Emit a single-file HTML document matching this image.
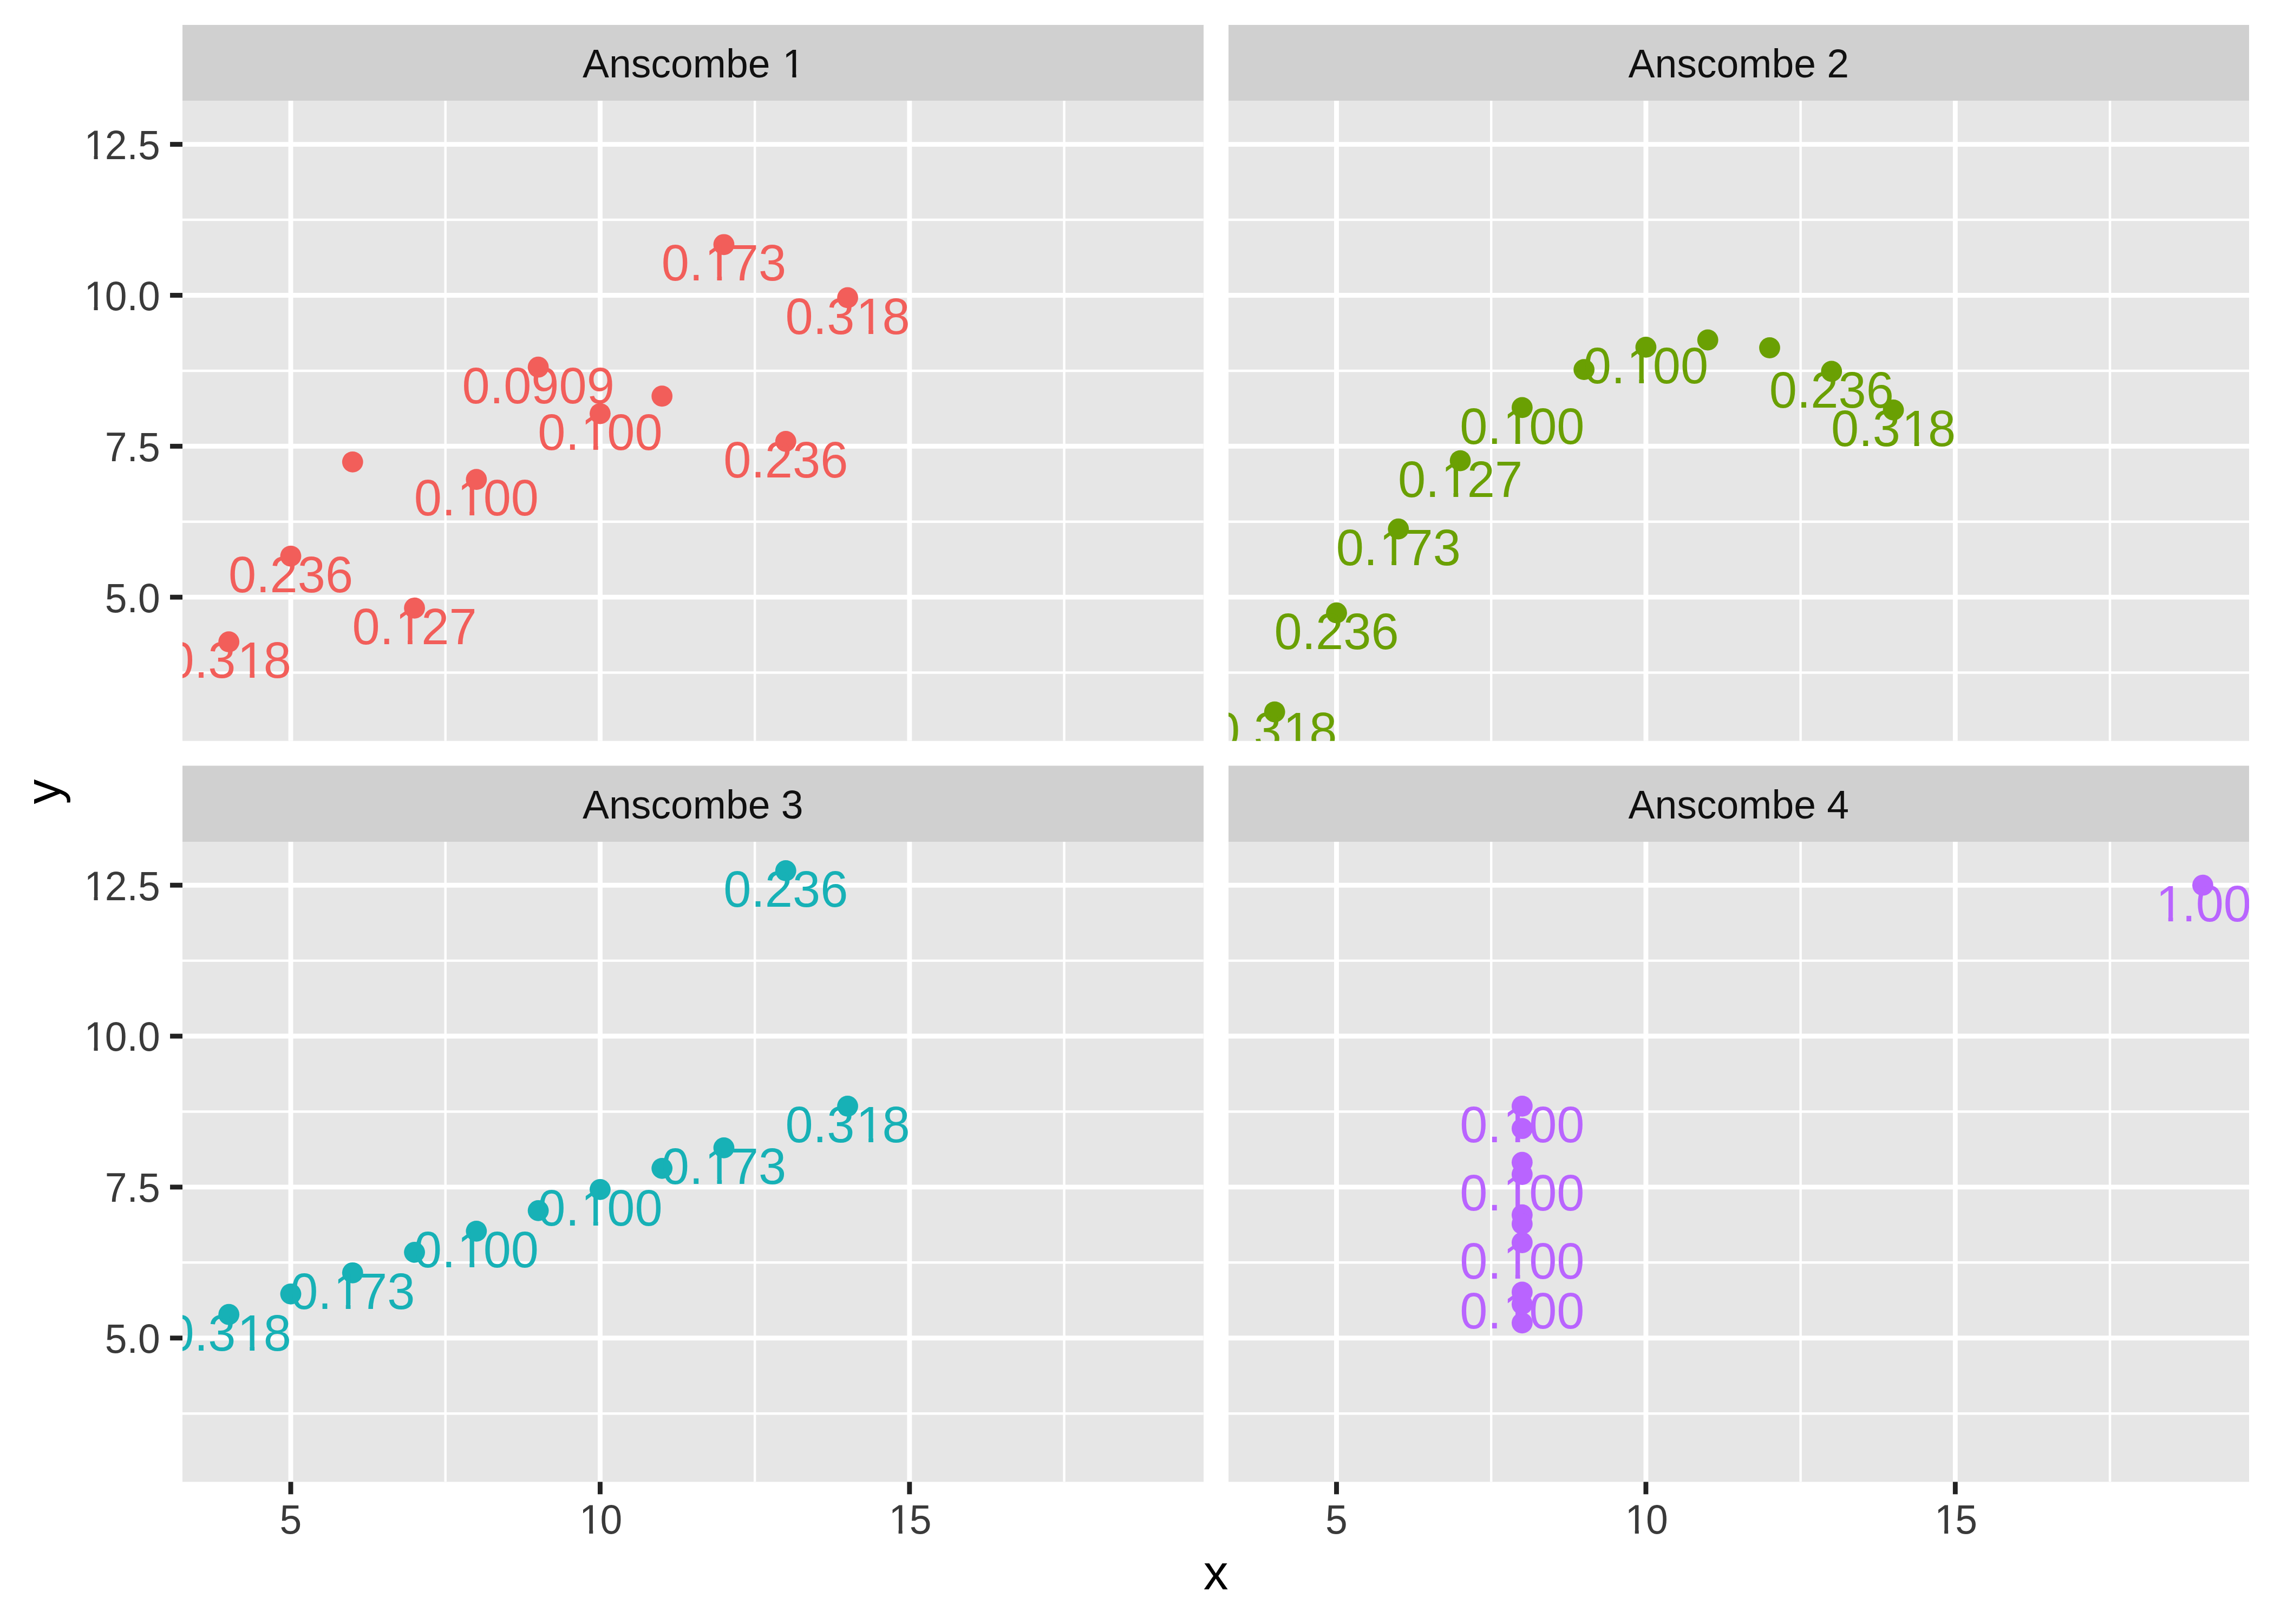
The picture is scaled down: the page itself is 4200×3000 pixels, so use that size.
<!DOCTYPE html>
<html lang="en">
<head>
<meta charset="utf-8">
<title>Anscombe quartet - leverage</title>
<style>
html,body{margin:0;padding:0;background:#ffffff;}
body{width:4200px;height:3000px;overflow:hidden;}
svg{display:block;}
text{font-family:"Liberation Sans",Arial,Helvetica,sans-serif;font-kerning:none;}
</style>
</head>
<body>
<svg width="4200" height="3000" viewBox="0 0 4200 3000">
<rect x="0" y="0" width="4200" height="3000" fill="#ffffff"/>
<defs>
<clipPath id="cp0"><rect x="337" y="186" width="1886" height="1182.70"/></clipPath>
<clipPath id="cp1"><rect x="2269" y="186" width="1885" height="1182.70"/></clipPath>
<clipPath id="cp2"><rect x="337" y="1555" width="1886" height="1182.40"/></clipPath>
<clipPath id="cp3"><rect x="2269" y="1555" width="1885" height="1182.40"/></clipPath>
<clipPath id="k1"><path clip-rule="evenodd" d="M1046.03 55.30H1513.64V172.63H1046.03ZM1449.36 136.22H1463.41V145.30H1449.36ZM1470.50 136.22H1483.98V145.30H1470.50Z"/></clipPath>
<clipPath id="k2"><path clip-rule="evenodd" d="M963.30 698.45H1253.52V845.65H963.30ZM1078.56 800.38H1095.89V810.85H1078.56ZM1104.62 800.38H1121.23V810.85H1104.62Z"/></clipPath>
<clipPath id="k3"><path clip-rule="evenodd" d="M734.73 816.83H1024.96V964.03H734.73ZM850.00 918.76H867.33V929.23H850.00ZM876.06 918.76H892.66V929.23H876.06Z"/></clipPath>
<clipPath id="k4"><path clip-rule="evenodd" d="M1420.43 489.93H1710.65V637.13H1420.43ZM1586.86 591.86H1604.19V602.33H1586.86ZM1612.92 591.86H1629.53V602.33H1612.92Z"/></clipPath>
<clipPath id="k5"><path clip-rule="evenodd" d="M277.60 1108.98H567.82V1256.18H277.60ZM444.03 1210.91H461.36V1221.38H444.03ZM470.09 1210.91H486.70V1221.38H470.09Z"/></clipPath>
<clipPath id="k6"><path clip-rule="evenodd" d="M1191.86 394.36H1482.09V541.56H1191.86ZM1307.13 496.28H1324.46V506.76H1307.13ZM1333.19 496.28H1349.80V506.76H1333.19Z"/></clipPath>
<clipPath id="k7"><path clip-rule="evenodd" d="M620.45 1048.16H910.67V1195.36H620.45ZM735.72 1150.09H753.04V1160.56H735.72ZM761.77 1150.09H778.38V1160.56H761.77Z"/></clipPath>
<clipPath id="k8"><path clip-rule="evenodd" d="M2894.80 578.99H3185.02V726.19H2894.80ZM3010.06 680.91H3027.39V691.39H3010.06ZM3036.12 680.91H3052.73V691.39H3036.12Z"/></clipPath>
<clipPath id="k9"><path clip-rule="evenodd" d="M2666.23 687.59H2956.46V834.79H2666.23ZM2781.50 789.52H2798.83V799.99H2781.50ZM2807.56 789.52H2824.16V799.99H2807.56Z"/></clipPath>
<clipPath id="k10"><path clip-rule="evenodd" d="M3351.93 691.94H3642.15V839.14H3351.93ZM3518.36 793.86H3535.69V804.34H3518.36ZM3544.42 793.86H3561.03V804.34H3544.42Z"/></clipPath>
<clipPath id="k11"><path clip-rule="evenodd" d="M2437.67 905.89H2727.89V1053.09H2437.67ZM2552.93 1007.82H2570.26V1018.29H2552.93ZM2578.99 1007.82H2595.60V1018.29H2578.99Z"/></clipPath>
<clipPath id="k12"><path clip-rule="evenodd" d="M2209.10 1234.96H2499.32V1382.16H2209.10ZM2375.53 1336.89H2392.86V1347.36H2375.53ZM2401.59 1336.89H2418.20V1347.36H2401.59Z"/></clipPath>
<clipPath id="k13"><path clip-rule="evenodd" d="M2551.95 783.16H2842.17V930.36H2551.95ZM2667.22 885.09H2684.54V895.56H2667.22ZM2693.27 885.09H2709.88V895.56H2693.27Z"/></clipPath>
<clipPath id="k14"><path clip-rule="evenodd" d="M963.30 2094.04H1253.52V2241.24H963.30ZM1078.56 2195.97H1095.89V2206.44H1078.56ZM1104.62 2195.97H1121.23V2206.44H1104.62Z"/></clipPath>
<clipPath id="k15"><path clip-rule="evenodd" d="M734.73 2168.98H1024.96V2316.18H734.73ZM850.00 2270.91H867.33V2281.38H850.00ZM876.06 2270.91H892.66V2281.38H876.06Z"/></clipPath>
<clipPath id="k16"><path clip-rule="evenodd" d="M1420.43 1944.17H1710.65V2091.37H1420.43ZM1586.86 2046.09H1604.19V2056.57H1586.86ZM1612.92 2046.09H1629.53V2056.57H1612.92Z"/></clipPath>
<clipPath id="k17"><path clip-rule="evenodd" d="M506.17 2243.92H796.39V2391.12H506.17ZM621.43 2345.85H638.76V2356.32H621.43ZM647.49 2345.85H664.10V2356.32H647.49Z"/></clipPath>
<clipPath id="k18"><path clip-rule="evenodd" d="M277.60 2318.86H567.82V2466.06H277.60ZM444.03 2420.78H461.36V2431.26H444.03ZM470.09 2420.78H486.70V2431.26H470.09Z"/></clipPath>
<clipPath id="k19"><path clip-rule="evenodd" d="M1191.86 2019.10H1482.09V2166.30H1191.86ZM1307.13 2121.03H1324.46V2131.50H1307.13ZM1333.19 2121.03H1349.80V2131.50H1333.19Z"/></clipPath>
<clipPath id="k20"><path clip-rule="evenodd" d="M2666.23 2189.62H2956.46V2336.82H2666.23ZM2781.50 2291.54H2798.83V2302.02H2781.50ZM2807.56 2291.54H2824.16V2302.02H2807.56Z"/></clipPath>
<clipPath id="k21"><path clip-rule="evenodd" d="M2666.23 2278.67H2956.46V2425.87H2666.23ZM2781.50 2380.60H2798.83V2391.07H2781.50ZM2807.56 2380.60H2824.16V2391.07H2807.56Z"/></clipPath>
<clipPath id="k22"><path clip-rule="evenodd" d="M2666.23 2066.89H2956.46V2214.09H2666.23ZM2781.50 2168.82H2798.83V2179.29H2781.50ZM2807.56 2168.82H2824.16V2179.29H2807.56Z"/></clipPath>
<clipPath id="k23"><path clip-rule="evenodd" d="M2666.23 1944.17H2956.46V2091.37H2666.23ZM2781.50 2046.09H2798.83V2056.57H2781.50ZM2807.56 2046.09H2824.16V2056.57H2807.56Z"/></clipPath>
<clipPath id="k24"><path clip-rule="evenodd" d="M3948.93 1546.67H4187.99V1693.87H3948.93ZM3987.47 1648.60H4004.80V1659.07H3987.47ZM4013.53 1648.60H4030.13V1659.07H4013.53Z"/></clipPath>
<clipPath id="k25"><path clip-rule="evenodd" d="M122.98 469.82H325.70V587.15H122.98ZM159.48 550.74H173.54V559.81H159.48ZM180.62 550.74H194.10V559.81H180.62Z"/></clipPath>
<clipPath id="k26"><path clip-rule="evenodd" d="M122.98 198.30H325.70V315.63H122.98ZM159.48 279.22H173.54V288.30H159.48ZM180.62 279.22H194.10V288.30H180.62Z"/></clipPath>
<clipPath id="k27"><path clip-rule="evenodd" d="M122.98 1802.42H325.70V1919.75H122.98ZM159.48 1883.34H173.54V1892.41H159.48ZM180.62 1883.34H194.10V1892.41H180.62Z"/></clipPath>
<clipPath id="k28"><path clip-rule="evenodd" d="M122.98 1530.90H325.70V1648.23H122.98ZM159.48 1611.82H173.54V1620.90H159.48ZM180.62 1611.82H194.10V1620.90H180.62Z"/></clipPath>
<clipPath id="k29"><path clip-rule="evenodd" d="M1037.63 2670.72H1179.19V2788.05H1037.63ZM1074.13 2751.64H1088.18V2760.71H1074.13ZM1095.27 2751.64H1108.75V2760.71H1095.27Z"/></clipPath>
<clipPath id="k30"><path clip-rule="evenodd" d="M1609.04 2670.72H1750.61V2788.05H1609.04ZM1645.55 2751.64H1659.60V2760.71H1645.55ZM1666.68 2751.64H1680.16V2760.71H1666.68Z"/></clipPath>
<clipPath id="k31"><path clip-rule="evenodd" d="M2969.13 2670.72H3110.69V2788.05H2969.13ZM3005.63 2751.64H3019.68V2760.71H3005.63ZM3026.77 2751.64H3040.25V2760.71H3026.77Z"/></clipPath>
<clipPath id="k32"><path clip-rule="evenodd" d="M3540.54 2670.72H3682.11V2788.05H3540.54ZM3577.05 2751.64H3591.10V2760.71H3577.05ZM3598.18 2751.64H3611.66V2760.71H3598.18Z"/></clipPath>
</defs>
<g id="panel1">
<rect x="337" y="46" width="1886" height="140" fill="#D0D0D0"/>
<g font-size="73.33" fill="#101010"><text x="1076.03" y="143.30" clip-path="url(#k1)">Anscombe <tspan dx="2.42">1</tspan></text></g>
<rect x="337" y="186" width="1886" height="1182.70" fill="#E6E6E6"/>
<g clip-path="url(#cp0)">
<g stroke="#fff" stroke-width="4.45">
<line x1="337.00" x2="2222.67" y1="1242.59" y2="1242.59"/>
<line x1="337.00" x2="2222.67" y1="963.74" y2="963.74"/>
<line x1="337.00" x2="2222.67" y1="684.90" y2="684.90"/>
<line x1="337.00" x2="2222.67" y1="406.05" y2="406.05"/>
<line y1="186.10" y2="1368.85" x1="822.70" x2="822.70"/>
<line y1="186.10" y2="1368.85" x1="1394.12" x2="1394.12"/>
<line y1="186.10" y2="1368.85" x1="1965.53" x2="1965.53"/>
</g>
<g stroke="#fff" stroke-width="8.9">
<line x1="337.00" x2="2222.67" y1="1103.17" y2="1103.17"/>
<line x1="337.00" x2="2222.67" y1="824.32" y2="824.32"/>
<line x1="337.00" x2="2222.67" y1="545.48" y2="545.48"/>
<line x1="337.00" x2="2222.67" y1="266.63" y2="266.63"/>
<line y1="186.10" y2="1368.85" x1="537.00" x2="537.00"/>
<line y1="186.10" y2="1368.85" x1="1108.41" x2="1108.41"/>
<line y1="186.10" y2="1368.85" x1="1679.83" x2="1679.83"/>
</g>
<g fill="#F25E5A">
<circle cx="1108.41" cy="764.09" r="19.4"/>
<circle cx="879.84" cy="885.67" r="19.4"/>
<circle cx="1451.26" cy="815.40" r="19.4"/>
<circle cx="994.13" cy="678.21" r="19.4"/>
<circle cx="1222.69" cy="731.74" r="19.4"/>
<circle cx="1565.54" cy="549.94" r="19.4"/>
<circle cx="651.28" cy="853.32" r="19.4"/>
<circle cx="422.71" cy="1185.70" r="19.4"/>
<circle cx="1336.98" cy="451.78" r="19.4"/>
<circle cx="765.56" cy="1123.24" r="19.4"/>
<circle cx="537.00" cy="1027.32" r="19.4"/>
</g>
<g fill="#F25E5A" font-size="92.0" transform="scale(1,1.027)">
<text x="993.30" y="808.85" clip-path="url(#k2)">0.<tspan dx="3.03">1</tspan><tspan dx="-3.03">00</tspan></text>
<text x="764.73" y="927.23" clip-path="url(#k3)">0.<tspan dx="3.03">1</tspan><tspan dx="-3.03">00</tspan></text>
<text x="1336.15" y="858.81">0.236</text>
<text x="853.43" y="725.23">0.0909</text>
<text x="1450.43" y="600.33" clip-path="url(#k4)">0.3<tspan dx="3.03">1</tspan><tspan dx="-3.03">8</tspan></text>
<text x="307.60" y="1219.38" clip-path="url(#k5)">0.3<tspan dx="3.03">1</tspan><tspan dx="-3.03">8</tspan></text>
<text x="1221.86" y="504.76" clip-path="url(#k6)">0.<tspan dx="3.03">1</tspan><tspan dx="-3.03">73</tspan></text>
<text x="650.45" y="1158.56" clip-path="url(#k7)">0.<tspan dx="3.03">1</tspan><tspan dx="-3.03">27</tspan></text>
<text x="421.88" y="1065.16">0.236</text>
</g>
</g>
</g>
<g id="panel2">
<rect x="2269" y="46" width="1885" height="140" fill="#D0D0D0"/>
<g font-size="73.33" fill="#101010"><text x="3007.53" y="143.30">Anscombe 2</text></g>
<rect x="2269" y="186" width="1885" height="1182.70" fill="#E6E6E6"/>
<g clip-path="url(#cp1)">
<g stroke="#fff" stroke-width="4.45">
<line x1="2268.50" x2="4154.17" y1="1242.59" y2="1242.59"/>
<line x1="2268.50" x2="4154.17" y1="963.74" y2="963.74"/>
<line x1="2268.50" x2="4154.17" y1="684.90" y2="684.90"/>
<line x1="2268.50" x2="4154.17" y1="406.05" y2="406.05"/>
<line y1="186.10" y2="1368.85" x1="2754.20" x2="2754.20"/>
<line y1="186.10" y2="1368.85" x1="3325.62" x2="3325.62"/>
<line y1="186.10" y2="1368.85" x1="3897.03" x2="3897.03"/>
</g>
<g stroke="#fff" stroke-width="8.9">
<line x1="2268.50" x2="4154.17" y1="1103.17" y2="1103.17"/>
<line x1="2268.50" x2="4154.17" y1="824.32" y2="824.32"/>
<line x1="2268.50" x2="4154.17" y1="545.48" y2="545.48"/>
<line x1="2268.50" x2="4154.17" y1="266.63" y2="266.63"/>
<line y1="186.10" y2="1368.85" x1="2468.50" x2="2468.50"/>
<line y1="186.10" y2="1368.85" x1="3039.91" x2="3039.91"/>
<line y1="186.10" y2="1368.85" x1="3611.33" x2="3611.33"/>
</g>
<g fill="#6AA003">
<circle cx="3039.91" cy="641.40" r="19.4"/>
<circle cx="2811.34" cy="752.94" r="19.4"/>
<circle cx="3382.76" cy="686.01" r="19.4"/>
<circle cx="2925.63" cy="682.67" r="19.4"/>
<circle cx="3154.19" cy="628.01" r="19.4"/>
<circle cx="3497.04" cy="757.40" r="19.4"/>
<circle cx="2582.78" cy="977.13" r="19.4"/>
<circle cx="2354.21" cy="1315.09" r="19.4"/>
<circle cx="3268.48" cy="642.51" r="19.4"/>
<circle cx="2697.06" cy="851.09" r="19.4"/>
<circle cx="2468.50" cy="1132.17" r="19.4"/>
</g>
<g fill="#6AA003" font-size="92.0" transform="scale(1,1.027)">
<text x="2924.80" y="689.39" clip-path="url(#k8)">0.<tspan dx="3.03">1</tspan><tspan dx="-3.03">00</tspan></text>
<text x="2696.23" y="797.99" clip-path="url(#k9)">0.<tspan dx="3.03">1</tspan><tspan dx="-3.03">00</tspan></text>
<text x="3267.65" y="732.83">0.236</text>
<text x="3381.93" y="802.34" clip-path="url(#k10)">0.3<tspan dx="3.03">1</tspan><tspan dx="-3.03">8</tspan></text>
<text x="2467.67" y="1016.29" clip-path="url(#k11)">0.<tspan dx="3.03">1</tspan><tspan dx="-3.03">73</tspan></text>
<text x="2239.10" y="1345.36" clip-path="url(#k12)">0.3<tspan dx="3.03">1</tspan><tspan dx="-3.03">8</tspan></text>
<text x="2581.95" y="893.56" clip-path="url(#k13)">0.<tspan dx="3.03">1</tspan><tspan dx="-3.03">27</tspan></text>
<text x="2353.38" y="1167.25">0.236</text>
</g>
</g>
</g>
<g id="panel3">
<rect x="337" y="1414.5" width="1886" height="140.5" fill="#D0D0D0"/>
<g font-size="73.33" fill="#101010"><text x="1076.03" y="1511.80">Anscombe 3</text></g>
<rect x="337" y="1555" width="1886" height="1182.40" fill="#E6E6E6"/>
<g clip-path="url(#cp2)">
<g stroke="#fff" stroke-width="4.45">
<line x1="337.00" x2="2222.67" y1="2611.17" y2="2611.17"/>
<line x1="337.00" x2="2222.67" y1="2332.32" y2="2332.32"/>
<line x1="337.00" x2="2222.67" y1="2053.48" y2="2053.48"/>
<line x1="337.00" x2="2222.67" y1="1774.63" y2="1774.63"/>
<line y1="1554.68" y2="2737.43" x1="822.70" x2="822.70"/>
<line y1="1554.68" y2="2737.43" x1="1394.12" x2="1394.12"/>
<line y1="1554.68" y2="2737.43" x1="1965.53" x2="1965.53"/>
</g>
<g stroke="#fff" stroke-width="8.9">
<line x1="337.00" x2="2222.67" y1="2471.75" y2="2471.75"/>
<line x1="337.00" x2="2222.67" y1="2192.90" y2="2192.90"/>
<line x1="337.00" x2="2222.67" y1="1914.06" y2="1914.06"/>
<line x1="337.00" x2="2222.67" y1="1635.21" y2="1635.21"/>
<line y1="1554.68" y2="2737.43" x1="537.00" x2="537.00"/>
<line y1="1554.68" y2="2737.43" x1="1108.41" x2="1108.41"/>
<line y1="1554.68" y2="2737.43" x1="1679.83" x2="1679.83"/>
</g>
<g fill="#17B1B6">
<circle cx="1108.41" cy="2197.36" r="19.4"/>
<circle cx="879.84" cy="2274.32" r="19.4"/>
<circle cx="1451.26" cy="1608.44" r="19.4"/>
<circle cx="994.13" cy="2236.40" r="19.4"/>
<circle cx="1222.69" cy="2158.32" r="19.4"/>
<circle cx="1565.54" cy="2043.44" r="19.4"/>
<circle cx="651.28" cy="2351.29" r="19.4"/>
<circle cx="422.71" cy="2428.25" r="19.4"/>
<circle cx="1336.98" cy="2120.40" r="19.4"/>
<circle cx="765.56" cy="2313.36" r="19.4"/>
<circle cx="537.00" cy="2390.32" r="19.4"/>
</g>
<g fill="#17B1B6" font-size="92.0" transform="scale(1,1.027)">
<text x="993.30" y="2204.44" clip-path="url(#k14)">0.<tspan dx="3.03">1</tspan><tspan dx="-3.03">00</tspan></text>
<text x="764.73" y="2279.38" clip-path="url(#k15)">0.<tspan dx="3.03">1</tspan><tspan dx="-3.03">00</tspan></text>
<text x="1336.15" y="1631.00">0.236</text>
<text x="1450.43" y="2054.57" clip-path="url(#k16)">0.3<tspan dx="3.03">1</tspan><tspan dx="-3.03">8</tspan></text>
<text x="536.17" y="2354.32" clip-path="url(#k17)">0.<tspan dx="3.03">1</tspan><tspan dx="-3.03">73</tspan></text>
<text x="307.60" y="2429.26" clip-path="url(#k18)">0.3<tspan dx="3.03">1</tspan><tspan dx="-3.03">8</tspan></text>
<text x="1221.86" y="2129.50" clip-path="url(#k19)">0.<tspan dx="3.03">1</tspan><tspan dx="-3.03">73</tspan></text>
</g>
</g>
</g>
<g id="panel4">
<rect x="2269" y="1414.5" width="1885" height="140.5" fill="#D0D0D0"/>
<g font-size="73.33" fill="#101010"><text x="3007.53" y="1511.80">Anscombe 4</text></g>
<rect x="2269" y="1555" width="1885" height="1182.40" fill="#E6E6E6"/>
<g clip-path="url(#cp3)">
<g stroke="#fff" stroke-width="4.45">
<line x1="2268.50" x2="4154.17" y1="2611.17" y2="2611.17"/>
<line x1="2268.50" x2="4154.17" y1="2332.32" y2="2332.32"/>
<line x1="2268.50" x2="4154.17" y1="2053.48" y2="2053.48"/>
<line x1="2268.50" x2="4154.17" y1="1774.63" y2="1774.63"/>
<line y1="1554.68" y2="2737.43" x1="2754.20" x2="2754.20"/>
<line y1="1554.68" y2="2737.43" x1="3325.62" x2="3325.62"/>
<line y1="1554.68" y2="2737.43" x1="3897.03" x2="3897.03"/>
</g>
<g stroke="#fff" stroke-width="8.9">
<line x1="2268.50" x2="4154.17" y1="2471.75" y2="2471.75"/>
<line x1="2268.50" x2="4154.17" y1="2192.90" y2="2192.90"/>
<line x1="2268.50" x2="4154.17" y1="1914.06" y2="1914.06"/>
<line x1="2268.50" x2="4154.17" y1="1635.21" y2="1635.21"/>
<line y1="1554.68" y2="2737.43" x1="2468.50" x2="2468.50"/>
<line y1="1554.68" y2="2737.43" x1="3039.91" x2="3039.91"/>
<line y1="1554.68" y2="2737.43" x1="3611.33" x2="3611.33"/>
</g>
<g fill="#B964FF">
<circle cx="2811.34" cy="2295.52" r="19.4"/>
<circle cx="2811.34" cy="2386.98" r="19.4"/>
<circle cx="2811.34" cy="2169.48" r="19.4"/>
<circle cx="2811.34" cy="2043.44" r="19.4"/>
<circle cx="2811.34" cy="2084.71" r="19.4"/>
<circle cx="2811.34" cy="2244.21" r="19.4"/>
<circle cx="2811.34" cy="2443.86" r="19.4"/>
<circle cx="4068.46" cy="1635.21" r="19.4"/>
<circle cx="2811.34" cy="2409.28" r="19.4"/>
<circle cx="2811.34" cy="2147.17" r="19.4"/>
<circle cx="2811.34" cy="2260.94" r="19.4"/>
</g>
<g fill="#B964FF" font-size="92.0" transform="scale(1,1.027)">
<text x="2696.23" y="2300.02" clip-path="url(#k20)">0.<tspan dx="3.03">1</tspan><tspan dx="-3.03">00</tspan></text>
<text x="2696.23" y="2389.07" clip-path="url(#k21)">0.<tspan dx="3.03">1</tspan><tspan dx="-3.03">00</tspan></text>
<text x="2696.23" y="2177.29" clip-path="url(#k22)">0.<tspan dx="3.03">1</tspan><tspan dx="-3.03">00</tspan></text>
<text x="2696.23" y="2054.57" clip-path="url(#k23)">0.<tspan dx="3.03">1</tspan><tspan dx="-3.03">00</tspan></text>
<text x="3978.93" y="1657.07" clip-path="url(#k24)"><tspan dx="3.03">1</tspan><tspan dx="-3.03">.00</tspan></text>
</g>
</g>
</g>
<g id="yaxis">
<g stroke="#222222" stroke-width="8.9">
<line x1="314.08" x2="337.00" y1="1103.17" y2="1103.17"/>
<line x1="314.08" x2="337.00" y1="824.32" y2="824.32"/>
<line x1="314.08" x2="337.00" y1="545.48" y2="545.48"/>
<line x1="314.08" x2="337.00" y1="266.63" y2="266.63"/>
<line x1="314.08" x2="337.00" y1="2471.75" y2="2471.75"/>
<line x1="314.08" x2="337.00" y1="2192.90" y2="2192.90"/>
<line x1="314.08" x2="337.00" y1="1914.06" y2="1914.06"/>
<line x1="314.08" x2="337.00" y1="1635.21" y2="1635.21"/>
</g>
<g font-size="73.33" fill="#3A3A3A" transform="scale(1,1.027)">
<text x="193.76" y="1100.84">5.0</text>
<text x="193.76" y="829.33">7.5</text>
<text x="152.98" y="557.81" clip-path="url(#k25)"><tspan dx="2.42">1</tspan><tspan dx="-2.42">0.0</tspan></text>
<text x="152.98" y="286.30" clip-path="url(#k26)"><tspan dx="2.42">1</tspan><tspan dx="-2.42">2.5</tspan></text>
<text x="193.76" y="2433.44">5.0</text>
<text x="193.76" y="2161.93">7.5</text>
<text x="152.98" y="1890.41" clip-path="url(#k27)"><tspan dx="2.42">1</tspan><tspan dx="-2.42">0.0</tspan></text>
<text x="152.98" y="1618.90" clip-path="url(#k28)"><tspan dx="2.42">1</tspan><tspan dx="-2.42">2.5</tspan></text>
</g>
</g>
<g id="xaxis">
<g stroke="#222222" stroke-width="8.9">
<line y1="2737.40" y2="2760.32" x1="537.00" x2="537.00"/>
<line y1="2737.40" y2="2760.32" x1="1108.41" x2="1108.41"/>
<line y1="2737.40" y2="2760.32" x1="1679.83" x2="1679.83"/>
<line y1="2737.40" y2="2760.32" x1="2468.50" x2="2468.50"/>
<line y1="2737.40" y2="2760.32" x1="3039.91" x2="3039.91"/>
<line y1="2737.40" y2="2760.32" x1="3611.33" x2="3611.33"/>
</g>
<g font-size="73.33" fill="#3A3A3A" transform="scale(1,1.027)">
<text x="516.60" y="2758.71">5</text>
<text x="1067.63" y="2758.71" clip-path="url(#k29)"><tspan dx="2.42">1</tspan><tspan dx="-2.42">0</tspan></text>
<text x="1639.04" y="2758.71" clip-path="url(#k30)"><tspan dx="2.42">1</tspan><tspan dx="-2.42">5</tspan></text>
<text x="2448.10" y="2758.71">5</text>
<text x="2999.13" y="2758.71" clip-path="url(#k31)"><tspan dx="2.42">1</tspan><tspan dx="-2.42">0</tspan></text>
<text x="3570.54" y="2758.71" clip-path="url(#k32)"><tspan dx="2.42">1</tspan><tspan dx="-2.42">5</tspan></text>
</g>
</g>
<text id="xtitle" x="2245.59" y="2936.1" font-size="91.67" text-anchor="middle" fill="#000">x</text>
<text id="ytitle" transform="translate(111.3,1462.66) rotate(-90)" font-size="91.67" text-anchor="middle" fill="#000">y</text>
</svg>
</body>
</html>
